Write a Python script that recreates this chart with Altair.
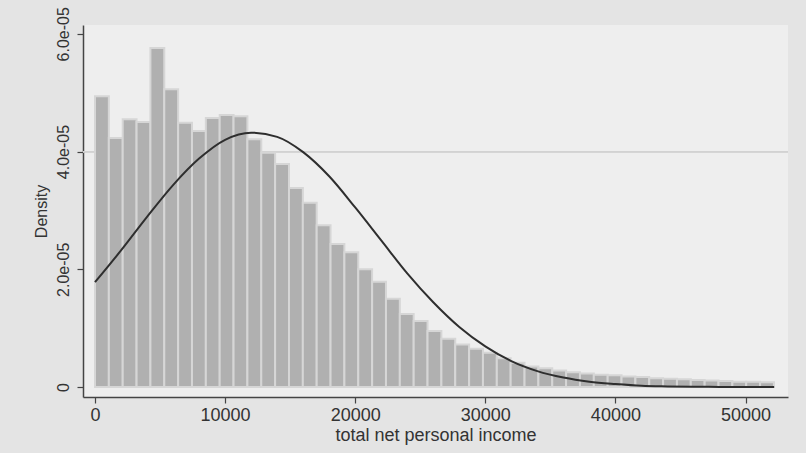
import altair as alt
import pandas as pd

# Histogram bin heights (density, in units of 1e-05), bin width ~1065
bin_width = 1065
bar_heights_e5 = [
    4.94, 4.23, 4.55, 4.50, 5.76, 5.06, 4.49, 4.35, 4.57, 4.62,
    4.60, 4.21, 3.98, 3.79, 3.38, 3.13, 2.75, 2.43, 2.29, 2.00,
    1.79, 1.50, 1.24, 1.12, 0.95, 0.82, 0.72, 0.65, 0.58, 0.49,
    0.41, 0.35, 0.32, 0.28, 0.25, 0.23, 0.21, 0.20, 0.18, 0.17,
    0.15, 0.14, 0.13, 0.12, 0.11, 0.10, 0.09, 0.09, 0.08,
]

# Normal density curve
curve_income = [0, 2000, 4000, 6000, 8000, 10000, 12000, 14000, 16000, 18000,
                20000, 22000, 24000, 26000, 28000, 30000, 32000, 34000, 36000,
                38000, 40000, 42000, 44000, 46000, 48000, 50000, 52200]
curve_density_e5 = [1.78, 2.32, 2.89, 3.43, 3.88, 4.20, 4.32, 4.25, 3.99, 3.58,
                    3.05, 2.49, 1.93, 1.44, 1.02, 0.69, 0.44, 0.27, 0.16,
                    0.09, 0.05, 0.02, 0.01, 0.005, 0.002, 0.001, 0.0]

x_ticks = [0, 10000, 20000, 30000, 40000, 50000]
y_ticks_e5 = [0, 2, 4, 6]

bars = pd.DataFrame({
    "bin_start": [i * bin_width for i in range(len(bar_heights_e5))],
    "bin_end": [(i + 1) * bin_width for i in range(len(bar_heights_e5))],
    "density": [v * 1e-5 for v in bar_heights_e5],
    "base": [0.0] * len(bar_heights_e5),
})
curve = pd.DataFrame({
    "income": curve_income,
    "density": [v * 1e-5 for v in curve_density_e5],
})

FONT = "Liberation Sans"

xscale = alt.Scale(domain=[-922, 53266], nice=False, zero=False)
yscale = alt.Scale(domain=[-0.17e-5, 6.15e-5], nice=False, zero=False)

xaxis = alt.Axis(
    values=x_ticks, format="d", title="total net personal income",
    labelFontSize=18, titleFontSize=18, labelPadding=3, titlePadding=2,
    labelFlush=False,
)
yaxis = alt.Axis(
    values=[v * 1e-5 for v in y_ticks_e5], title="Density",
    labelExpr="datum.value == 0 ? '0' : format(datum.value * 100000, '.1f') + 'e-05'",
    labelAngle=270, labelAlign="center", labelBaseline="bottom",
    labelFontSize=16, titleFontSize=16, labelPadding=6, titlePadding=6,
    labelFlush=False,
)

grid = alt.Chart(bars).mark_rule(color="#d2d2d2", strokeWidth=1).encode(
    y=alt.datum(4e-5, scale=yscale)
)

hist = alt.Chart(bars).mark_bar(
    color="#b0b0b0", stroke="#d6d6d6", strokeWidth=2
).encode(
    x=alt.X("bin_start:Q", scale=xscale, axis=xaxis),
    x2="bin_end:Q",
    y=alt.Y("density:Q", scale=yscale, axis=yaxis),
    y2="base:Q",
)

line = alt.Chart(curve).mark_line(
    color="#2e2e2e", strokeWidth=2, interpolate="monotone"
).encode(
    x=alt.X("income:Q", scale=xscale),
    y=alt.Y("density:Q", scale=yscale),
)

chart = alt.layer(grid, hist, line).properties(
    width=705, height=372,
    autosize=alt.AutoSizeParams(type="none"),
    padding={"left": 83, "top": 25, "right": 18, "bottom": 56},
    background="#e4e4e4",
).configure_view(
    fill="#eeeeee", stroke=None
).configure_axis(
    labelFont=FONT, titleFont=FONT, labelColor="#333333", titleColor="#333333",
    titleFontWeight="normal", domainColor="#444444", domainWidth=1.5,
    tickColor="#444444", tickWidth=1.2, tickSize=6, grid=False,
)

chart.save("out.html", embed_options={"renderer": "svg", "actions": False})
